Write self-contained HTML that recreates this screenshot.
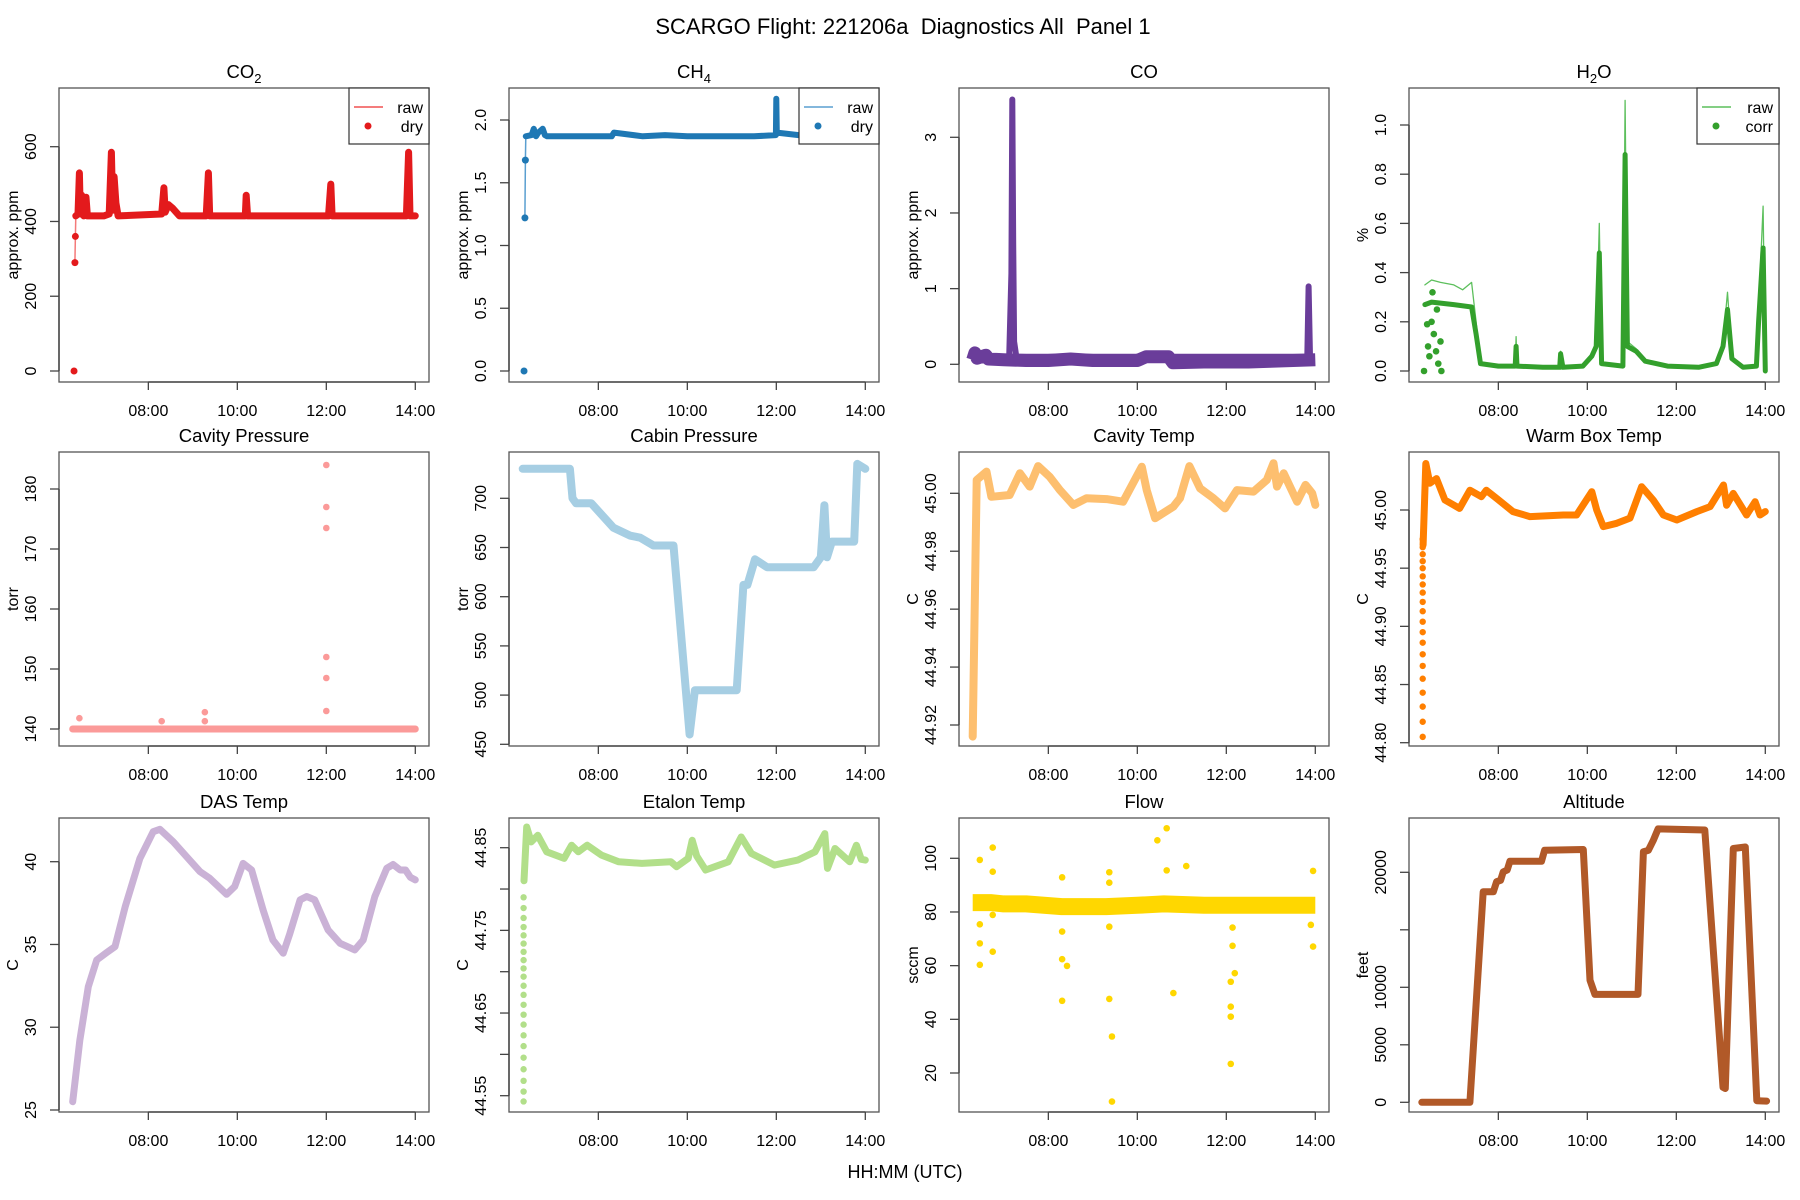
<!DOCTYPE html>
<html><head><meta charset="utf-8"><title>SCARGO Flight 221206a Diagnostics</title>
<style>
html,body{margin:0;padding:0;background:#fff;}
svg{display:block;font-family:"Liberation Sans",Arial,sans-serif;}
.pre{white-space:pre;}
</style></head>
<body>
<svg id="chart" xmlns="http://www.w3.org/2000/svg" width="1800" height="1200" viewBox="0 0 1800 1200">
<rect width="1800" height="1200" fill="#fff"/>
<text class="pre" xml:space="preserve" x="903" y="34" font-size="22" text-anchor="middle" fill="#000">SCARGO Flight: 221206a  Diagnostics All  Panel 1</text>
<text x="905" y="1178" font-size="18" text-anchor="middle" fill="#000">HH:MM (UTC)</text>
</svg>
<script>
// ---------- data (time in decimal hours UTC) ----------
const xTicks = [8, 10, 12, 14];
const xTickLabels = ["08:00", "10:00", "12:00", "14:00"];

const co2Times  = [6.35,6.36,6.37,6.42,6.45,6.47,6.5,6.55,6.6,6.63,6.68,7.0,7.12,7.17,7.2,7.23,7.27,7.32,8.3,8.35,8.38,8.45,8.55,8.7,9.3,9.35,9.38,10.18,10.2,10.23,11.0,12.05,12.1,12.13,13.8,13.85,13.88,14.0];
const co2Values = [290,360,415,420,530,420,470,415,465,415,415,415,420,585,430,520,450,415,420,490,425,445,435,415,415,530,415,415,470,415,415,415,500,415,415,585,415,415];
const co2OutTimes = [6.33];
const co2OutValues = [0];

const ch4Times  = [6.35,6.36,6.37,6.5,6.55,6.6,6.65,6.75,6.8,6.85,7.2,7.3,8.3,8.35,9.0,9.5,10.0,10.5,11.0,11.5,11.99,12.0,12.01,12.5,13.0,14.0];
const ch4Values = [1.22,1.68,1.87,1.88,1.93,1.87,1.9,1.93,1.88,1.87,1.87,1.87,1.87,1.9,1.87,1.88,1.87,1.87,1.87,1.87,1.88,2.17,1.9,1.88,1.87,1.87];
const ch4OutTimes = [6.33];
const ch4OutValues = [0];

const coTimes  = [6.3,6.35,6.4,6.6,6.65,7.0,7.5,8.0,8.5,9.0,9.5,10.0,10.2,10.7,10.8,11.5,12.0,12.5,13.0,13.5,14.0];
const coValues = [0.06,0.15,0.08,0.12,0.07,0.06,0.05,0.05,0.07,0.05,0.05,0.05,0.1,0.1,0.02,0.03,0.03,0.03,0.04,0.05,0.06];
const coSpikeTimes  = [7.12,7.17,7.19,7.21,7.23,7.28,13.82,13.85,13.88];
const coSpikeValues = [0.1,1.2,3.5,1.6,0.3,0.1,0.1,1.03,0.1];

const h2oRawTimes  = [6.35,6.5,6.7,7.0,7.2,7.4,7.5,7.6,8.0,8.38,8.4,8.42,9.0,9.38,9.4,9.45,9.9,10.1,10.2,10.27,10.32,10.8,10.85,10.9,11.1,11.3,11.8,12.5,12.9,13.05,13.15,13.25,13.5,13.8,13.85,13.95,14.0];
const h2oRawValues = [0.35,0.37,0.36,0.35,0.33,0.36,0.2,0.03,0.02,0.02,0.14,0.02,0.015,0.015,0.08,0.015,0.02,0.07,0.12,0.6,0.03,0.02,1.1,0.12,0.09,0.04,0.02,0.015,0.03,0.12,0.32,0.06,0.015,0.02,0.25,0.67,0.0];
const h2oTimes  = [6.35,6.5,7.0,7.4,7.5,7.6,8.0,8.38,8.4,8.42,9.0,9.38,9.4,9.45,9.9,10.1,10.2,10.27,10.32,10.8,10.85,10.9,11.1,11.3,11.8,12.5,12.9,13.05,13.15,13.25,13.5,13.8,13.85,13.95,14.0];
const h2oValues = [0.27,0.28,0.27,0.26,0.15,0.03,0.02,0.02,0.1,0.02,0.015,0.015,0.07,0.015,0.02,0.06,0.1,0.48,0.03,0.02,0.88,0.1,0.08,0.04,0.02,0.015,0.03,0.1,0.25,0.05,0.015,0.02,0.2,0.5,0.0];
const h2oOutTimes  = [6.33,6.4,6.42,6.45,6.5,6.52,6.55,6.6,6.62,6.65,6.7,6.72];
const h2oOutValues = [0.0,0.19,0.1,0.06,0.2,0.32,0.15,0.08,0.25,0.03,0.12,0.0];

const cavpTimes  = [6.3,7.0,8.0,9.0,10.0,11.0,12.0,13.0,14.0];
const cavpValues = [140,140,140,140,140,140,140,140,140];
const cavpOutTimes  = [12.0,12.0,12.0,12.0,12.0,12.0,9.27,9.27,6.45,8.3];
const cavpOutValues = [184,177,173.5,152,148.5,143,142.8,141.3,141.8,141.3];

const cabinTimes  = [6.3,7.36,7.42,7.5,7.84,8.34,8.72,8.94,9.24,9.69,10.05,10.17,11.11,11.26,11.35,11.52,11.79,12.84,13.0,13.08,13.14,13.25,13.75,13.82,14.0];
const cabinValues = [730,730,700,695,695,670,662,660,652,652,460,505,505,612,612,638,630,630,640,693,640,656,656,735,730];

const cavtTimes  = [6.3,6.39,6.61,6.72,7.13,7.36,7.58,7.77,8.03,8.26,8.56,8.86,9.31,9.68,10.1,10.21,10.4,10.81,10.96,11.17,11.41,11.71,11.97,12.24,12.61,12.91,13.06,13.14,13.29,13.59,13.78,13.93,14.0];
const cavtValues = [44.916,45.0046,45.0075,44.9988,44.9994,45.0069,45.0023,45.0094,45.0057,45.0011,44.996,44.9983,44.998,44.9971,45.0092,45.0011,44.9914,44.9954,44.9983,45.0094,45.0017,44.9983,44.9948,45.0011,45.0006,45.0046,45.0104,45.0023,45.0069,44.9971,45.0029,45.0,44.996];

const warmTimes  = [6.31,6.37,6.46,6.61,6.8,7.13,7.36,7.62,7.73,7.96,8.33,8.71,9.46,9.76,10.1,10.21,10.36,10.66,10.96,11.22,11.48,11.71,12.01,12.46,12.76,13.06,13.13,13.28,13.58,13.77,13.88,14.0];
const warmValues = [44.97,45.04,45.023,45.027,45.0086,45.0014,45.017,45.0114,45.017,45.01,44.9986,44.9943,44.9957,44.9957,45.0157,45.0,44.9857,44.9886,44.993,45.02,45.0086,44.9957,44.9914,44.9986,45.0029,45.0215,45.004,45.0143,44.9957,45.0071,44.9957,44.9986];
const warmStartTimes  = [6.3,6.3,6.3,6.3,6.3,6.3,6.3,6.3,6.3,6.3,6.3,6.3,6.3,6.3,6.3,6.3,6.3,6.3,6.3,6.3];
const warmStartValues = [44.805,44.818,44.831,44.843,44.855,44.866,44.876,44.886,44.895,44.904,44.913,44.921,44.929,44.936,44.943,44.95,44.956,44.962,44.968,44.975];

const dasTimes  = [6.3,6.46,6.65,6.84,7.06,7.25,7.48,7.81,8.11,8.26,8.56,8.86,9.16,9.38,9.76,9.94,10.13,10.32,10.58,10.8,11.03,11.18,11.41,11.56,11.74,12.04,12.31,12.64,12.83,13.09,13.36,13.5,13.66,13.78,13.89,14.0];
const dasValues = [25.5,29.2,32.45,34.06,34.5,34.87,37.28,40.2,41.81,41.96,41.2,40.3,39.4,39.0,38.03,38.5,39.9,39.5,37.08,35.27,34.47,35.65,37.69,37.9,37.69,35.88,35.07,34.67,35.27,37.89,39.6,39.83,39.5,39.5,39.06,38.9];

const etalonTimes  = [6.33,6.39,6.49,6.64,6.84,7.23,7.4,7.55,7.75,8.07,8.46,8.98,9.63,9.76,10.02,10.11,10.21,10.41,10.92,11.21,11.44,11.96,12.48,12.87,13.09,13.15,13.32,13.65,13.8,13.91,14.0];
const etalonValues = [44.81,44.875,44.857,44.865,44.845,44.837,44.853,44.845,44.853,44.841,44.833,44.831,44.833,44.827,44.837,44.859,44.84,44.823,44.833,44.863,44.843,44.829,44.835,44.845,44.867,44.825,44.849,44.833,44.853,44.836,44.835];
const etalonStartTimes  = [6.32,6.32,6.32,6.32,6.32,6.32,6.32,6.32,6.32,6.32,6.32,6.32,6.32,6.32,6.32,6.32,6.32,6.32,6.32,6.32,6.32,6.32];
const etalonStartValues = [44.543,44.555,44.568,44.582,44.596,44.61,44.623,44.636,44.648,44.66,44.672,44.683,44.694,44.704,44.714,44.724,44.734,44.744,44.754,44.765,44.777,44.79];

const flowTimes  = [6.3,6.7,7.0,7.5,8.3,9.3,10.0,10.6,11.5,12.1,13.0,14.0];
const flowValues = [83.5,83.5,83,83,82,82,82.5,83,82.5,82.5,82.5,82.5];
const flowOutTimes  = [6.46,6.46,6.46,6.46,6.75,6.75,6.75,6.75,8.31,8.31,8.31,8.31,8.42,9.37,9.37,9.37,9.37,9.43,9.43,10.45,10.66,10.66,10.81,11.1,12.1,12.1,12.1,12.1,12.19,12.14,12.14,13.95,13.95,13.9];
const flowOutValues = [60.3,68.3,75.4,99.4,104,95,65.2,78.9,92.9,62.4,46.9,72.7,59.9,94.8,90.9,47.6,74.5,33.6,9.35,106.7,111.2,95.5,49.8,97.1,23.4,41.0,44.7,54.0,57.2,67.4,74.2,95.3,67.1,75.2];

const altTimes  = [6.28,7.36,7.66,7.89,7.96,8.05,8.11,8.2,8.26,8.97,9.04,9.91,10.06,10.17,11.14,11.26,11.37,11.48,11.59,12.64,13.05,13.1,13.28,13.55,13.81,14.03];
const altValues = [0,0,18313,18313,19180,19300,20038,20200,20960,20960,21920,21980,10620,9380,9380,21790,21900,22760,23770,23680,1300,1200,22070,22200,140,100];

// ---------- layout ----------
const colLeft = [59, 509, 959, 1409];
const rowTop = [88, 452, 818];
const BW = 370, BH = 294;

const panels = [
 {id:'co2', title:['CO','2'], col:0,row:0, cal:[0,371,600,146.7], ticks:[0,200,400,600], labels:['0','200','400','600'], ylab:'approx. ppm',
  series:[{t:co2Times,v:co2Values,type:'thin',color:'#f47a7a',w:1.5,name:'co2-raw-line'},{t:co2Times.slice(2),v:co2Values.slice(2),type:'line',color:'#e31a1c',w:7,name:'co2-dry-series'},{t:co2Times.slice(0,2),v:co2Values.slice(0,2),type:'dots',color:'#e31a1c',r:3.5,name:'co2-start'},{t:co2OutTimes,v:co2OutValues,type:'dots',color:'#e31a1c',r:3.5,name:'co2-outlier'}],
  legend:['raw','dry'], lcolor:['#f05050','#e31a1c'], lw:80},
 {id:'ch4', title:['CH','4'], col:1,row:0, cal:[0,371,2.0,120], ticks:[0,0.5,1,1.5,2], labels:['0.0','0.5','1.0','1.5','2.0'], ylab:'approx. ppm',
  series:[{t:ch4Times,v:ch4Values,type:'thin',color:'#5a9fd0',w:1.5,name:'ch4-raw-line'},{t:ch4Times.slice(2),v:ch4Values.slice(2),type:'line',color:'#1f78b4',w:6,name:'ch4-dry-series'},{t:ch4Times.slice(0,2),v:ch4Values.slice(0,2),type:'dots',color:'#1f78b4',r:3.5,name:'ch4-start'},{t:ch4OutTimes,v:ch4OutValues,type:'dots',color:'#1f78b4',r:3.5,name:'ch4-outlier'}],
  legend:['raw','dry'], lcolor:['#5a9fd0','#1f78b4'], lw:80},
 {id:'co', title:['CO',''], col:2,row:0, cal:[0,364.3,3,137.3], ticks:[0,1,2,3], labels:['0','1','2','3'], ylab:'approx. ppm',
  series:[{t:coTimes,v:coValues,type:'line',color:'#6a3d9a',w:13,cap:'butt',name:'co-series'},{t:coSpikeTimes,v:coSpikeValues,type:'line',color:'#6a3d9a',w:6,name:'co-spikes'}]},
 {id:'h2o', title:['H','2','O'], col:3,row:0, cal:[0,371,1.0,125], ticks:[0,0.2,0.4,0.6,0.8,1.0], labels:['0.0','0.2','0.4','0.6','0.8','1.0'], ylab:'%',
  series:[{t:h2oRawTimes,v:h2oRawValues,type:'thin',color:'#5cbf5c',w:1.3,name:'h2o-raw-line'},{t:h2oTimes,v:h2oValues,type:'line',color:'#33a02c',w:5,name:'h2o-corr-series'},{t:h2oOutTimes,v:h2oOutValues,type:'dots',color:'#33a02c',r:3.3,name:'h2o-corr-points'}],
  legend:['raw','corr'], lcolor:['#5cbf5c','#33a02c'], lw:82},
 {id:'cavp', title:['Cavity Pressure'], col:0,row:1, cal:[140,729,180,489], ticks:[140,150,160,170,180], labels:['140','150','160','170','180'], ylab:'torr',
  series:[{t:cavpTimes,v:cavpValues,type:'line',color:'#fb9a99',w:7,name:'cavity-pressure-series'},{t:cavpOutTimes,v:cavpOutValues,type:'dots',color:'#fb9a99',r:3.3,name:'cavity-pressure-outlier'}]},
 {id:'cabin', title:['Cabin Pressure'], col:1,row:1, cal:[450,744.3,700,498.3], ticks:[450,500,550,600,650,700], labels:['450','500','550','600','650','700'], ylab:'torr',
  series:[{t:cabinTimes,v:cabinValues,type:'line',color:'#a6cee3',w:8,name:'cabin-pressure-series'}]},
 {id:'cavt', title:['Cavity Temp'], col:2,row:1, cal:[44.92,725,45.0,493.3], ticks:[44.92,44.94,44.96,44.98,45.0], labels:['44.92','44.94','44.96','44.98','45.00'], ylab:'C',
  series:[{t:cavtTimes,v:cavtValues,type:'line',color:'#fdbf6f',w:8,name:'cavity-temp-series'}]},
 {id:'warm', title:['Warm Box Temp'], col:3,row:1, cal:[44.8,742.7,45.0,510], ticks:[44.8,44.85,44.9,44.95,45.0], labels:['44.80','44.85','44.90','44.95','45.00'], ylab:'C',
  series:[{t:warmTimes,v:warmValues,type:'line',color:'#ff7f00',w:7,name:'warm-box-temp-series'},{t:warmStartTimes,v:warmStartValues,type:'dots',color:'#ff7f00',r:3.2,name:'warm-box-startup'}]},
 {id:'das', title:['DAS Temp'], col:0,row:2, cal:[25,1110,40,861.7], ticks:[25,30,35,40], labels:['25','30','35','40'], ylab:'C',
  series:[{t:dasTimes,v:dasValues,type:'line',color:'#cab2d6',w:7,name:'das-temp-series'}]},
 {id:'etalon', title:['Etalon Temp'], col:1,row:2, cal:[44.55,1095.7,44.85,847.7], ticks:[44.55,44.6,44.65,44.7,44.75,44.8,44.85], labels:['44.55','','44.65','','44.75','','44.85'], ylab:'C',
  series:[{t:etalonTimes,v:etalonValues,type:'line',color:'#b2df8a',w:7,name:'etalon-temp-series'},{t:etalonStartTimes,v:etalonStartValues,type:'dots',color:'#b2df8a',r:3.2,name:'etalon-startup'}]},
 {id:'flow', title:['Flow'], col:2,row:2, cal:[20,1073,100,858.3], ticks:[20,40,60,80,100], labels:['20','40','60','80','100'], ylab:'sccm',
  series:[{t:flowTimes,v:flowValues,type:'line',color:'#ffd700',w:17,cap:'butt',name:'flow-series'},{t:flowOutTimes,v:flowOutValues,type:'dots',color:'#ffd700',r:3.3,name:'flow-outlier'}]},
 {id:'alt', title:['Altitude'], col:3,row:2, cal:[0,1102.3,20000,872.3], ticks:[0,5000,10000,15000,20000], labels:['0','5000','10000','','20000'], ylab:'feet',
  series:[{t:altTimes,v:altValues,type:'line',color:'#b15928',w:7,name:'altitude-series'}]}
];

const NS = 'http://www.w3.org/2000/svg';
const svg = document.getElementById('chart');
function mk(tag, attrs, parent){
  const e = document.createElementNS(NS, tag);
  for (const k in attrs) e.setAttribute(k, attrs[k]);
  parent.appendChild(e);
  return e;
}

panels.forEach(p => {
  const L = colLeft[p.col], T = rowTop[p.row];
  const xs = t => L + 13.7 + (t - 6.3) / 7.7 * 342.6;
  const ys = v => p.cal[1] + (v - p.cal[0]) * (p.cal[3] - p.cal[1]) / (p.cal[2] - p.cal[0]);
  const g = mk('g', {}, svg);
  
  

  const tt = mk('text', {x: L + BW/2, y: T - 10, 'font-size': 18.5, 'text-anchor': 'middle', fill: '#000'}, g);
  
  
  tt.appendChild(document.createTextNode(p.title[0]));
  if (p.title.length > 1 && p.title[1]) {
    const sub = mk('tspan', {'font-size': 13, dy: 5}, tt);
    sub.textContent = p.title[1];
    if (p.title[2]) { const r = mk('tspan', {dy: -5}, tt); r.textContent = p.title[2]; }
  }

  p.series.forEach(s => {
    if (s.type === 'dots') {
      s.t.forEach((t, i) => {
        const c = mk('circle', {cx: xs(t), cy: ys(s.v[i]), r: s.r, fill: s.color}, g);
        
        
      });
    } else {
      const pts = s.t.map((t, i) => xs(t).toFixed(1) + ',' + ys(s.v[i]).toFixed(1)).join(' ');
      const pl = mk('polyline', {points: pts, fill: 'none', stroke: s.color, 'stroke-width': s.w, 'stroke-linejoin': 'round', 'stroke-linecap': s.cap || 'round'}, g);
      
      
    }
  });

  const box = mk('rect', {x: L, y: T, width: BW, height: BH, fill: 'none', stroke: '#555', 'stroke-width': 1.3}, g);
  
  

  const xa = mk('line', {x1: xs(xTicks[0]), x2: xs(xTicks[xTicks.length-1]), y1: T + BH, y2: T + BH, stroke: '#333', 'stroke-width': 1.3}, g);
  
  
  xTicks.forEach((t, i) => {
    const tk = mk('line', {x1: xs(t), x2: xs(t), y1: T + BH, y2: T + BH + 8, stroke: '#444', 'stroke-width': 1.3}, g);
    
    
    const lb = mk('text', {x: xs(t), y: T + BH + 34, 'font-size': 16, 'text-anchor': 'middle', fill: '#000'}, g);
    
    
    lb.textContent = xTickLabels[i];
  });

  const ya = mk('line', {x1: L, x2: L, y1: ys(p.ticks[0]), y2: ys(p.ticks[p.ticks.length-1]), stroke: '#333', 'stroke-width': 1.3}, g);
  
  
  p.ticks.forEach((v, i) => {
    const y = ys(v);
    const tk = mk('line', {x1: L - 9, x2: L, y1: y, y2: y, stroke: '#444', 'stroke-width': 1.3}, g);
    
    
    if (p.labels[i]) {
      const lb = mk('text', {x: 0, y: 0, 'font-size': 16, 'text-anchor': 'middle', fill: '#000', transform: 'translate(' + (L - 23) + ',' + y + ') rotate(-90)'}, g);
      
      
      lb.textContent = p.labels[i];
    }
  });
  const yt = mk('text', {x: 0, y: 0, 'font-size': 16, 'text-anchor': 'middle', fill: '#000', transform: 'translate(' + (L - 41) + ',' + (T + BH/2) + ') rotate(-90)'}, g);
  
  
  yt.textContent = p.ylab;

  if (p.legend) {
    const lx = L + BW - p.lw;
    const lg = mk('g', {}, g);
    
    
    mk('rect', {x: lx, y: T, width: p.lw, height: 56, fill: '#fff', stroke: '#333', 'stroke-width': 1.2}, lg);
    const l1 = mk('line', {x1: lx + 5, x2: lx + 34, y1: T + 19, y2: T + 19, stroke: p.lcolor[0], 'stroke-width': 1.4}, lg);
    
    
    const d1 = mk('circle', {cx: lx + 19, cy: T + 38, r: 3.5, fill: p.lcolor[1]}, lg);
    
    
    const t1 = mk('text', {x: L + BW - 6, y: T + 25, 'font-size': 16, 'text-anchor': 'end', fill: '#000'}, lg);
    
    
    t1.textContent = p.legend[0];
    const t2 = mk('text', {x: L + BW - 6, y: T + 44, 'font-size': 16, 'text-anchor': 'end', fill: '#000'}, lg);
    
    
    t2.textContent = p.legend[1];
  }
});
</script>
</body></html>
